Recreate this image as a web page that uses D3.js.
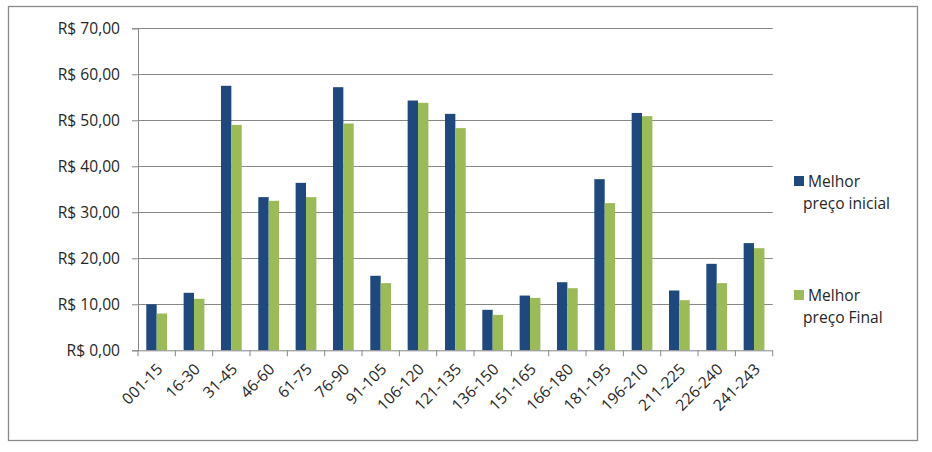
<!DOCTYPE html>
<html><head><meta charset="utf-8">
<script src="https://cdn.jsdelivr.net/npm/d3@7"></script>
<style>body{margin:0;background:#fff}svg{display:block}text{font-family:"Open Sans",sans-serif;fill:#262626}</style>
</head><body>
<svg id="c" width="932" height="452"></svg>
<script>
const categories = ["001-15","16-30","31-45","46-60","61-75","76-90","91-105","106-120","121-135","136-150","151-165","166-180","181-195","196-210","211-225","226-240","241-243"];
const inicial = [10.0,12.5,57.5,33.3,36.4,57.2,16.2,54.3,51.4,8.8,11.9,14.8,37.2,51.6,13.0,18.8,23.3];
const final = [8.0,11.2,49.0,32.5,33.3,49.3,14.6,53.8,48.3,7.7,11.4,13.5,32.0,50.9,10.9,14.6,22.2];
const seriesNames = [["Melhor","preço inicial"],["Melhor","preço Final"]];
const yTicks = [0,10,20,30,40,50,60,70];
const colors = ["#1F497D","#9BBB59"];

const svg = d3.select("#c");
svg.append("rect").attr("x",8.5).attr("y",6.5).attr("width",909).attr("height",434)
  .attr("fill","#fff").attr("stroke","#8a8a8a").attr("stroke-width",1.3);

const L=138, R=772.7, T=28.3, B=350.3;
const x = d3.scaleBand().domain(categories).range([L,R]).paddingInner(0).paddingOuter(0);
const xs = d3.scaleBand().domain([0,1]).range([0,x.bandwidth()]).paddingInner(0).paddingOuter(0.8);
const y = d3.scaleLinear().domain([0,70]).range([B,T]);
const grid="#878787";
const fs="15.6px";

svg.append("g").selectAll("line").data(yTicks.filter(d=>d>0)).join("line")
  .attr("x1",L).attr("x2",R).attr("y1",d=>Math.round(y(d))+0.5).attr("y2",d=>Math.round(y(d))+0.5)
  .attr("stroke",grid).attr("stroke-width",1);

const data=[inicial,final];
data.forEach((arr,si)=>{
  svg.append("g").selectAll("rect").data(arr).join("rect")
    .attr("x",(d,i)=>x(categories[i])+xs(si))
    .attr("width",xs.bandwidth())
    .attr("y",d=>y(d)).attr("height",d=>B-y(d))
    .attr("fill",colors[si]);
});

const yAxis = d3.axisLeft(y).tickValues(yTicks).tickSize(6).tickPadding(12)
  .tickFormat(d=>"R$ "+d3.format(".2f")(d).replace(".",","));
const gy = svg.append("g").attr("transform",`translate(${L},0)`).call(yAxis);
gy.select(".domain").attr("stroke",grid);
gy.selectAll(".tick line").attr("stroke",grid);
gy.selectAll("text").style("font-size",fs).attr("fill","#262626");

const gx = svg.append("g").attr("transform",`translate(0,${B})`);
gx.append("line").attr("x1",L).attr("x2",R).attr("y1",0.5).attr("y2",0.5).attr("stroke",grid);
const bounds = categories.map(c=>x(c)).concat([R]);
gx.selectAll("line.t").data(bounds).join("line").attr("class","t")
  .attr("x1",d=>d).attr("x2",d=>d).attr("y1",0).attr("y2",6).attr("stroke",grid);
gx.selectAll("text").data(categories).join("text")
  .attr("transform",d=>`translate(${x(d)+x.bandwidth()/2+7},${20}) rotate(-45)`)
  .attr("text-anchor","end").style("font-size",fs).text(d=>d);

const lg = svg.append("g");
const legY=[176,290];
seriesNames.forEach((nm,i)=>{
  lg.append("rect").attr("x",794).attr("y",legY[i]).attr("width",10).attr("height",10).attr("fill",colors[i]);
  lg.append("text").attr("x",808).attr("y",legY[i]+11).style("font-size",fs).text(nm[0]);
  lg.append("text").attr("x",803).attr("y",legY[i]+33).style("font-size",fs).text(nm[1]);
});
</script>
</body></html>
